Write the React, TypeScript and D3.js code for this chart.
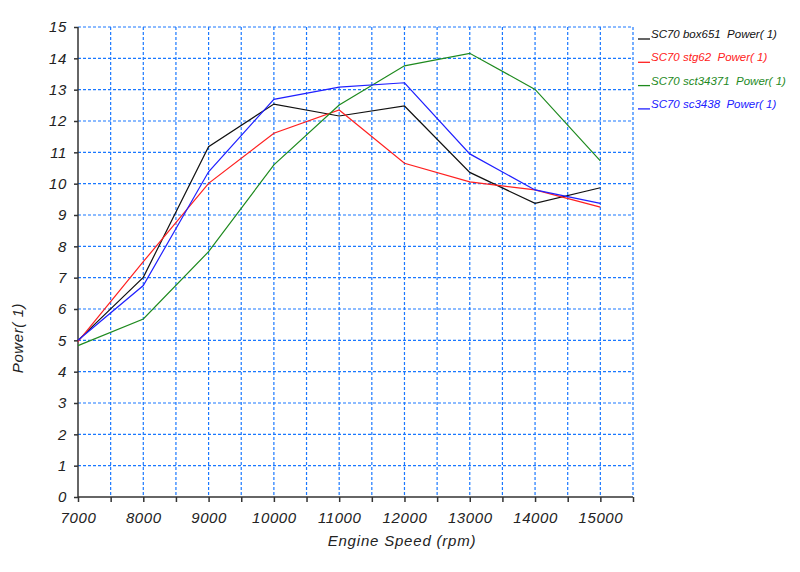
import React, {useRef, useEffect} from "react";
import * as d3 from "d3";

const rpm = [7000, 8000, 9000, 10000, 11000, 12000, 13000, 14000, 15000];
const box651 = [5.0, 7.01, 11.18, 12.54, 12.16, 12.48, 10.36, 9.37, 9.87];
const stg62 = [4.96, 7.51, 10.01, 11.61, 12.35, 10.65, 10.06, 9.8, 9.25];
const sct34371 = [4.83, 5.68, 7.83, 10.6, 12.51, 13.76, 14.16, 13.01, 10.73];
const sc3438 = [5.0, 6.75, 10.38, 12.69, 13.08, 13.22, 10.95, 9.8, 9.37];
const seriesNames = [
  "SC70 box651  Power( 1)",
  "SC70 stg62  Power( 1)",
  "SC70 sct34371  Power( 1)",
  "SC70 sc3438  Power( 1)",
];
const seriesColors = ["#111111", "#ff2020", "#1e8a1e", "#2020ff"];
const yTicks = d3.range(0, 16);
const xTicks = d3.range(7000, 15001, 1000);
const xGrid = d3.range(7500, 15501, 500);

const FONT = "'Liberation Sans', Arial, sans-serif";

export default function App() {
  const svgRef = useRef<SVGSVGElement>(null);

  useEffect(() => {
    const svg = d3.select(svgRef.current);
    svg.selectAll("*").remove();

    const left = 78, right = 633, top = 27, bottom = 497;
    const x = d3.scaleLinear().domain([7000, 15500]).range([left, right]);
    const y = d3.scaleLinear().domain([0, 15]).range([bottom, top]);

    // Grid
    svg.append("g")
      .selectAll("line")
      .data(yTicks.filter((d) => d > 0))
      .join("line")
      .attr("x1", left).attr("x2", right)
      .attr("y1", (d) => y(d)).attr("y2", (d) => y(d))
      .attr("stroke", "#1a78ff").attr("stroke-width", 1.2)
      .attr("stroke-dasharray", "3,2");

    svg.append("g")
      .selectAll("line")
      .data(xGrid)
      .join("line")
      .attr("x1", (d) => x(d)).attr("x2", (d) => x(d))
      .attr("y1", top).attr("y2", bottom)
      .attr("stroke", "#1a78ff").attr("stroke-width", 1.2)
      .attr("stroke-dasharray", "3,2");

    // Axes
    const axisCol = "#333";
    const yAxis = svg.append("g")
      .attr("transform", `translate(${left},0)`)
      .call(d3.axisLeft(y).tickValues(yTicks).tickSize(4).tickPadding(7).tickFormat(d3.format("d")));
    yAxis.select(".domain").attr("stroke", axisCol).attr("stroke-width", 1.5).attr("d", `M0,${top}V${bottom}`);
    yAxis.selectAll("line").attr("stroke", axisCol).attr("stroke-width", 1.5);
    yAxis.selectAll("text")
      .style("font-family", FONT).style("font-style", "italic")
      .style("font-size", "15px").style("letter-spacing", "0.6px").attr("fill", "#222");

    const xAxis = svg.append("g")
      .attr("transform", `translate(0,${bottom})`)
      .call(d3.axisBottom(x).tickValues(d3.range(7000, 15501, 500)).tickSize(5).tickPadding(10)
        .tickFormat((d) => (xTicks.includes(+d) ? String(d) : "")));
    xAxis.select(".domain").attr("stroke", axisCol).attr("stroke-width", 1.5).attr("d", `M${left},0H${right}`);
    xAxis.selectAll("line").attr("stroke", axisCol).attr("stroke-width", 1.5);
    xAxis.selectAll("text")
      .style("font-family", FONT).style("font-style", "italic")
      .style("font-size", "15px").style("letter-spacing", "0.6px").attr("fill", "#222");

    // Axis labels
    svg.append("text")
      .attr("x", 402).attr("y", 546)
      .attr("text-anchor", "middle")
      .style("font-family", FONT).style("font-style", "italic").style("font-size", "15px")
      .style("letter-spacing", "0.8px")
      .attr("fill", "#222")
      .text("Engine Speed (rpm)");

    svg.append("text")
      .attr("transform", "translate(23,338) rotate(-90)")
      .attr("text-anchor", "middle")
      .style("font-family", FONT).style("font-style", "italic").style("font-size", "15px")
      .style("letter-spacing", "0.6px")
      .attr("fill", "#222")
      .text("Power( 1)");

    // Lines
    const all = [box651, stg62, sct34371, sc3438];
    const line = d3.line<number>().x((_, i) => x(rpm[i])).y((d) => y(d));
    all.forEach((vals, i) => {
      svg.append("path")
        .datum(vals)
        .attr("d", line)
        .attr("fill", "none")
        .attr("stroke", seriesColors[i])
        .attr("stroke-width", 1.2);
    });

    // Legend
    const leg = svg.append("g");
    seriesNames.forEach((name, i) => {
      const yy = 38 + i * 23.3;
      leg.append("line")
        .attr("x1", 638).attr("x2", 650)
        .attr("y1", yy + 1).attr("y2", yy + 1)
        .attr("stroke", seriesColors[i]).attr("stroke-width", 1.3);
      leg.append("text")
        .attr("x", 651).attr("y", yy)
        .attr("xml:space", "preserve")
        .style("white-space", "pre")
        .style("font-family", FONT).style("font-style", "italic").style("font-size", "11.5px")
        .attr("fill", seriesColors[i])
        .text(name);
    });
  }, []);

  return (
    <svg ref={svgRef} width={800} height={572}
      style={{position: "absolute", left: 0, top: 0, background: "#fff"}} />
  );
}
